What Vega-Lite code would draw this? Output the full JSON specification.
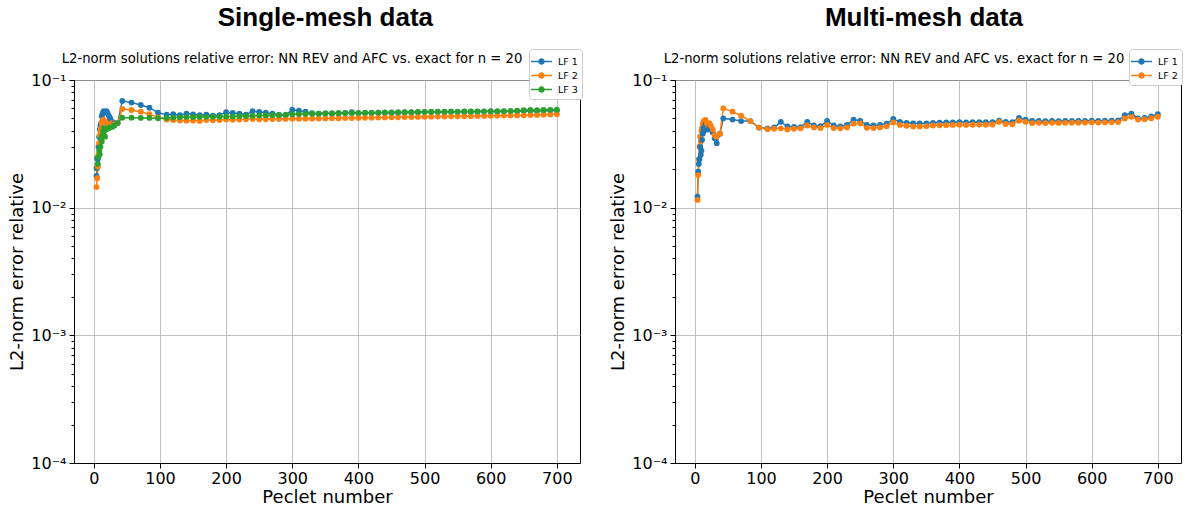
{
  "$schema": "https://vega.github.io/schema/vega-lite/v6.json",
  "background": "white",
  "padding": {"left": 8, "top": 4, "right": 6, "bottom": 2},
  "datasets": {
    "single": [
      {"x":4,"LF 1":0.0177,"LF 2":0.0145,"LF 3":0.0204},
      {"x":5,"LF 1":0.0205,"LF 2":0.0170,"LF 3":0.0245},
      {"x":6,"LF 1":0.0240,"LF 2":0.0210,"LF 3":0.0220},
      {"x":7,"LF 1":0.0300,"LF 2":0.0260,"LF 3":0.0250},
      {"x":8,"LF 1":0.0360,"LF 2":0.0320,"LF 3":0.0280},
      {"x":9,"LF 1":0.0410,"LF 2":0.0370,"LF 3":0.0262},
      {"x":10,"LF 1":0.0440,"LF 2":0.0400,"LF 3":0.0300},
      {"x":11,"LF 1":0.0460,"LF 2":0.0420,"LF 3":0.0350},
      {"x":12,"LF 1":0.0520,"LF 2":0.0460,"LF 3":0.0330},
      {"x":13,"LF 1":0.0540,"LF 2":0.0480,"LF 3":0.0370},
      {"x":14,"LF 1":0.0560,"LF 2":0.0490,"LF 3":0.0400},
      {"x":15,"LF 1":0.0570,"LF 2":0.0480,"LF 3":0.0420},
      {"x":17,"LF 1":0.0560,"LF 2":0.0470,"LF 3":0.0360},
      {"x":19,"LF 1":0.0570,"LF 2":0.0460,"LF 3":0.0410},
      {"x":21,"LF 1":0.0550,"LF 2":0.0470,"LF 3":0.0430},
      {"x":23,"LF 1":0.0520,"LF 2":0.0450,"LF 3":0.0420},
      {"x":25,"LF 1":0.0500,"LF 2":0.0460,"LF 3":0.0430},
      {"x":28,"LF 1":0.0470,"LF 2":0.0460,"LF 3":0.0430},
      {"x":31,"LF 1":0.0460,"LF 2":0.0450,"LF 3":0.0440},
      {"x":36,"LF 1":0.0460,"LF 2":0.0460,"LF 3":0.0460},
      {"x":43,"LF 1":0.0686,"LF 2":0.0593,"LF 3":0.0507},
      {"x":57,"LF 1":0.0665,"LF 2":0.0582,"LF 3":0.0507},
      {"x":71,"LF 1":0.0637,"LF 2":0.0565,"LF 3":0.0505},
      {"x":84,"LF 1":0.0607,"LF 2":0.0540,"LF 3":0.0505},
      {"x":97,"LF 1":0.0555,"LF 2":0.0510,"LF 3":0.0502},
      {"x":110,"LF 1":0.0535,"LF 2":0.0490,"LF 3":0.0505},
      {"x":120,"LF 1":0.0540,"LF 2":0.0485,"LF 3":0.0508},
      {"x":130,"LF 1":0.0530,"LF 2":0.0482,"LF 3":0.0510},
      {"x":140,"LF 1":0.0545,"LF 2":0.0480,"LF 3":0.0512},
      {"x":150,"LF 1":0.0538,"LF 2":0.0482,"LF 3":0.0513},
      {"x":160,"LF 1":0.0530,"LF 2":0.0478,"LF 3":0.0514},
      {"x":170,"LF 1":0.0535,"LF 2":0.0485,"LF 3":0.0515},
      {"x":180,"LF 1":0.0525,"LF 2":0.0483,"LF 3":0.0515},
      {"x":190,"LF 1":0.0530,"LF 2":0.0486,"LF 3":0.0516},
      {"x":200,"LF 1":0.0560,"LF 2":0.0490,"LF 3":0.0518},
      {"x":210,"LF 1":0.0552,"LF 2":0.0488,"LF 3":0.0518},
      {"x":220,"LF 1":0.0545,"LF 2":0.0490,"LF 3":0.0520},
      {"x":230,"LF 1":0.0535,"LF 2":0.0492,"LF 3":0.0522},
      {"x":240,"LF 1":0.0570,"LF 2":0.0495,"LF 3":0.0525},
      {"x":250,"LF 1":0.0562,"LF 2":0.0493,"LF 3":0.0527},
      {"x":260,"LF 1":0.0555,"LF 2":0.0492,"LF 3":0.0528},
      {"x":270,"LF 1":0.0545,"LF 2":0.0494,"LF 3":0.0530},
      {"x":280,"LF 1":0.0532,"LF 2":0.0495,"LF 3":0.0532},
      {"x":290,"LF 1":0.0530,"LF 2":0.0496,"LF 3":0.0535},
      {"x":300,"LF 1":0.0585,"LF 2":0.0498,"LF 3":0.0540},
      {"x":310,"LF 1":0.0575,"LF 2":0.0497,"LF 3":0.0542},
      {"x":320,"LF 1":0.0565,"LF 2":0.0497,"LF 3":0.0543},
      {"x":330,"LF 1":0.0550,"LF 2":0.0498,"LF 3":0.0545},
      {"x":340,"LF 1":0.0545,"LF 2":0.0499,"LF 3":0.0546},
      {"x":350,"LF 1":0.0548,"LF 2":0.0500,"LF 3":0.0548},
      {"x":360,"LF 1":0.0545,"LF 2":0.0501,"LF 3":0.0549},
      {"x":370,"LF 1":0.0550,"LF 2":0.0502,"LF 3":0.0550},
      {"x":380,"LF 1":0.0552,"LF 2":0.0503,"LF 3":0.0551},
      {"x":390,"LF 1":0.0560,"LF 2":0.0504,"LF 3":0.0552},
      {"x":400,"LF 1":0.0550,"LF 2":0.0505,"LF 3":0.0553},
      {"x":410,"LF 1":0.0552,"LF 2":0.0506,"LF 3":0.0554},
      {"x":420,"LF 1":0.0553,"LF 2":0.0507,"LF 3":0.0555},
      {"x":430,"LF 1":0.0555,"LF 2":0.0508,"LF 3":0.0556},
      {"x":440,"LF 1":0.0554,"LF 2":0.0509,"LF 3":0.0557},
      {"x":450,"LF 1":0.0556,"LF 2":0.0510,"LF 3":0.0558},
      {"x":460,"LF 1":0.0555,"LF 2":0.0511,"LF 3":0.0559},
      {"x":470,"LF 1":0.0558,"LF 2":0.0512,"LF 3":0.0560},
      {"x":480,"LF 1":0.0557,"LF 2":0.0513,"LF 3":0.0561},
      {"x":490,"LF 1":0.0560,"LF 2":0.0514,"LF 3":0.0562},
      {"x":500,"LF 1":0.0562,"LF 2":0.0515,"LF 3":0.0563},
      {"x":510,"LF 1":0.0561,"LF 2":0.0516,"LF 3":0.0564},
      {"x":520,"LF 1":0.0563,"LF 2":0.0517,"LF 3":0.0565},
      {"x":530,"LF 1":0.0562,"LF 2":0.0518,"LF 3":0.0565},
      {"x":540,"LF 1":0.0564,"LF 2":0.0519,"LF 3":0.0566},
      {"x":550,"LF 1":0.0563,"LF 2":0.0520,"LF 3":0.0566},
      {"x":560,"LF 1":0.0564,"LF 2":0.0520,"LF 3":0.0567},
      {"x":570,"LF 1":0.0565,"LF 2":0.0521,"LF 3":0.0567},
      {"x":580,"LF 1":0.0564,"LF 2":0.0522,"LF 3":0.0568},
      {"x":590,"LF 1":0.0566,"LF 2":0.0523,"LF 3":0.0568},
      {"x":600,"LF 1":0.0567,"LF 2":0.0524,"LF 3":0.0569},
      {"x":610,"LF 1":0.0566,"LF 2":0.0525,"LF 3":0.0570},
      {"x":620,"LF 1":0.0567,"LF 2":0.0526,"LF 3":0.0571},
      {"x":630,"LF 1":0.0568,"LF 2":0.0527,"LF 3":0.0573},
      {"x":640,"LF 1":0.0570,"LF 2":0.0528,"LF 3":0.0575},
      {"x":650,"LF 1":0.0572,"LF 2":0.0529,"LF 3":0.0580},
      {"x":660,"LF 1":0.0574,"LF 2":0.0531,"LF 3":0.0582},
      {"x":670,"LF 1":0.0573,"LF 2":0.0533,"LF 3":0.0580},
      {"x":680,"LF 1":0.0575,"LF 2":0.0535,"LF 3":0.0582},
      {"x":690,"LF 1":0.0576,"LF 2":0.0537,"LF 3":0.0584},
      {"x":700,"LF 1":0.0578,"LF 2":0.0540,"LF 3":0.0586}
    ],
    "multi": [
      {"x":4,"LF 1":0.0122,"LF 2":0.0115},
      {"x":5,"LF 1":0.0191,"LF 2":0.0180},
      {"x":6,"LF 1":0.0220,"LF 2":0.0240},
      {"x":7,"LF 1":0.0240,"LF 2":0.0300},
      {"x":8,"LF 1":0.0300,"LF 2":0.0360},
      {"x":9,"LF 1":0.0260,"LF 2":0.0330},
      {"x":10,"LF 1":0.0280,"LF 2":0.0400},
      {"x":11,"LF 1":0.0340,"LF 2":0.0420},
      {"x":12,"LF 1":0.0380,"LF 2":0.0450},
      {"x":13,"LF 1":0.0420,"LF 2":0.0470},
      {"x":14,"LF 1":0.0400,"LF 2":0.0480},
      {"x":16,"LF 1":0.0450,"LF 2":0.0487},
      {"x":18,"LF 1":0.0430,"LF 2":0.0460},
      {"x":20,"LF 1":0.0410,"LF 2":0.0440},
      {"x":22,"LF 1":0.0430,"LF 2":0.0460},
      {"x":24,"LF 1":0.0420,"LF 2":0.0440},
      {"x":27,"LF 1":0.0390,"LF 2":0.0410},
      {"x":30,"LF 1":0.0350,"LF 2":0.0370},
      {"x":33,"LF 1":0.0320,"LF 2":0.0360},
      {"x":38,"LF 1":0.0380,"LF 2":0.0380},
      {"x":43,"LF 1":0.0500,"LF 2":0.0600},
      {"x":57,"LF 1":0.0490,"LF 2":0.0565},
      {"x":70,"LF 1":0.0477,"LF 2":0.0525},
      {"x":84,"LF 1":0.0477,"LF 2":0.0477},
      {"x":97,"LF 1":0.0424,"LF 2":0.0424},
      {"x":110,"LF 1":0.0418,"LF 2":0.0412},
      {"x":120,"LF 1":0.0425,"LF 2":0.0415},
      {"x":130,"LF 1":0.0470,"LF 2":0.0418},
      {"x":140,"LF 1":0.0432,"LF 2":0.0410},
      {"x":150,"LF 1":0.0430,"LF 2":0.0415},
      {"x":160,"LF 1":0.0428,"LF 2":0.0418},
      {"x":170,"LF 1":0.0470,"LF 2":0.0440},
      {"x":180,"LF 1":0.0440,"LF 2":0.0425},
      {"x":190,"LF 1":0.0435,"LF 2":0.0420},
      {"x":200,"LF 1":0.0478,"LF 2":0.0445},
      {"x":210,"LF 1":0.0440,"LF 2":0.0420},
      {"x":220,"LF 1":0.0432,"LF 2":0.0418},
      {"x":230,"LF 1":0.0445,"LF 2":0.0425},
      {"x":240,"LF 1":0.0490,"LF 2":0.0455},
      {"x":250,"LF 1":0.0478,"LF 2":0.0458},
      {"x":260,"LF 1":0.0445,"LF 2":0.0422},
      {"x":270,"LF 1":0.0440,"LF 2":0.0420},
      {"x":280,"LF 1":0.0445,"LF 2":0.0425},
      {"x":290,"LF 1":0.0455,"LF 2":0.0435},
      {"x":300,"LF 1":0.0495,"LF 2":0.0465},
      {"x":310,"LF 1":0.0470,"LF 2":0.0445},
      {"x":320,"LF 1":0.0462,"LF 2":0.0438},
      {"x":330,"LF 1":0.0458,"LF 2":0.0432},
      {"x":340,"LF 1":0.0456,"LF 2":0.0432},
      {"x":350,"LF 1":0.0458,"LF 2":0.0435},
      {"x":360,"LF 1":0.0462,"LF 2":0.0440},
      {"x":370,"LF 1":0.0464,"LF 2":0.0442},
      {"x":380,"LF 1":0.0465,"LF 2":0.0443},
      {"x":390,"LF 1":0.0466,"LF 2":0.0445},
      {"x":400,"LF 1":0.0468,"LF 2":0.0446},
      {"x":410,"LF 1":0.0466,"LF 2":0.0445},
      {"x":420,"LF 1":0.0467,"LF 2":0.0446},
      {"x":430,"LF 1":0.0468,"LF 2":0.0447},
      {"x":440,"LF 1":0.0467,"LF 2":0.0446},
      {"x":450,"LF 1":0.0468,"LF 2":0.0448},
      {"x":460,"LF 1":0.0480,"LF 2":0.0470},
      {"x":470,"LF 1":0.0470,"LF 2":0.0452},
      {"x":480,"LF 1":0.0468,"LF 2":0.0450},
      {"x":490,"LF 1":0.0505,"LF 2":0.0480},
      {"x":500,"LF 1":0.0490,"LF 2":0.0470},
      {"x":510,"LF 1":0.0478,"LF 2":0.0460},
      {"x":520,"LF 1":0.0478,"LF 2":0.0462},
      {"x":530,"LF 1":0.0476,"LF 2":0.0460},
      {"x":540,"LF 1":0.0478,"LF 2":0.0462},
      {"x":550,"LF 1":0.0477,"LF 2":0.0461},
      {"x":560,"LF 1":0.0478,"LF 2":0.0462},
      {"x":570,"LF 1":0.0479,"LF 2":0.0463},
      {"x":580,"LF 1":0.0478,"LF 2":0.0463},
      {"x":590,"LF 1":0.0479,"LF 2":0.0464},
      {"x":600,"LF 1":0.0480,"LF 2":0.0465},
      {"x":610,"LF 1":0.0479,"LF 2":0.0464},
      {"x":620,"LF 1":0.0480,"LF 2":0.0465},
      {"x":630,"LF 1":0.0481,"LF 2":0.0466},
      {"x":640,"LF 1":0.0482,"LF 2":0.0468},
      {"x":650,"LF 1":0.0530,"LF 2":0.0500},
      {"x":660,"LF 1":0.0545,"LF 2":0.0515},
      {"x":670,"LF 1":0.0500,"LF 2":0.0490},
      {"x":680,"LF 1":0.0505,"LF 2":0.0492},
      {"x":690,"LF 1":0.0518,"LF 2":0.0502},
      {"x":700,"LF 1":0.0540,"LF 2":0.0516}
    ]
  },
  "hconcat": [
    {
      "title": {"text": "Single-mesh data", "font": "Liberation Sans", "fontSize": 26, "fontWeight": "bold", "anchor": "middle", "frame": "bounds", "dx": 30, "offset": 18},
      "vconcat": [
        {
          "width": 506,
          "height": 383,
          "title": {"text": "L2-norm solutions relative error: NN REV and AFC vs. exact for n = 20", "dx": -35},
          "data": {"name": "single"},
          "transform": [{"fold": ["LF 1", "LF 2", "LF 3"], "as": ["series", "err"]}],
          "encoding": {
            "x": {"field": "x", "type": "quantitative", "scale": {"domain": [-30, 735], "nice": false, "zero": false},
                  "axis": {"values": [0, 100, 200, 300, 400, 500, 600, 700], "format": "d", "title": "Peclet number", "titlePadding": 2, "labelPadding": 2}},
            "y": {"field": "err", "type": "quantitative", "scale": {"type": "log", "domain": [0.0001, 0.1], "nice": false},
                  "axis": {"values": [0.0001, 0.0002, 0.0003, 0.0004, 0.0005, 0.0006, 0.0007, 0.0008, 0.0009, 0.001, 0.002, 0.003, 0.004, 0.005, 0.006, 0.007, 0.008, 0.009, 0.01, 0.02, 0.03, 0.04, 0.05, 0.06, 0.07, 0.08, 0.09, 0.1],
                           "title": "L2-norm error relative",
                           "labelExpr": "datum.value == 0.1 ? '10⁻¹' : datum.value == 0.01 ? '10⁻²' : datum.value == 0.001 ? '10⁻³' : datum.value == 0.0001 ? '10⁻⁴' : ''",
                           "gridOpacity": {"condition": {"test": "indexof([0.0001, 0.001, 0.01, 0.1], datum.value) >= 0", "value": 1}, "value": 0},
                           "tickSize": {"condition": {"test": "indexof([0.0001, 0.001, 0.01, 0.1], datum.value) >= 0", "value": 5}, "value": 3},
                           "labelOverlap": false}},
            "color": {"field": "series", "type": "nominal",
                      "scale": {"domain": ["LF 1", "LF 2", "LF 3"], "range": ["#1f77b4", "#ff7f0e", "#2ca02c"]},
                      "legend": {"orient": "none", "legendX": 455, "legendY": -31}}
          },
          "layer": [
            {"mark": {"type": "line", "strokeWidth": 1.5}},
            {"mark": {"type": "point", "filled": true, "size": 34, "opacity": 1}}
          ]
        }
      ]
    },
    {
      "title": {"text": "Multi-mesh data", "font": "Liberation Sans", "fontSize": 26, "fontWeight": "bold", "anchor": "middle", "frame": "bounds", "dx": 28, "offset": 18},
      "vconcat": [
        {
          "width": 506,
          "height": 383,
          "title": {"text": "L2-norm solutions relative error: NN REV and AFC vs. exact for n = 20", "dx": -34},
          "data": {"name": "multi"},
          "transform": [{"fold": ["LF 1", "LF 2"], "as": ["series", "err"]}],
          "encoding": {
            "x": {"field": "x", "type": "quantitative", "scale": {"domain": [-30, 735], "nice": false, "zero": false},
                  "axis": {"values": [0, 100, 200, 300, 400, 500, 600, 700], "format": "d", "title": "Peclet number", "titlePadding": 2, "labelPadding": 2}},
            "y": {"field": "err", "type": "quantitative", "scale": {"type": "log", "domain": [0.0001, 0.1], "nice": false},
                  "axis": {"values": [0.0001, 0.0002, 0.0003, 0.0004, 0.0005, 0.0006, 0.0007, 0.0008, 0.0009, 0.001, 0.002, 0.003, 0.004, 0.005, 0.006, 0.007, 0.008, 0.009, 0.01, 0.02, 0.03, 0.04, 0.05, 0.06, 0.07, 0.08, 0.09, 0.1],
                           "title": "L2-norm error relative",
                           "labelExpr": "datum.value == 0.1 ? '10⁻¹' : datum.value == 0.01 ? '10⁻²' : datum.value == 0.001 ? '10⁻³' : datum.value == 0.0001 ? '10⁻⁴' : ''",
                           "gridOpacity": {"condition": {"test": "indexof([0.0001, 0.001, 0.01, 0.1], datum.value) >= 0", "value": 1}, "value": 0},
                           "tickSize": {"condition": {"test": "indexof([0.0001, 0.001, 0.01, 0.1], datum.value) >= 0", "value": 5}, "value": 3},
                           "labelOverlap": false}},
            "color": {"field": "series", "type": "nominal",
                      "scale": {"domain": ["LF 1", "LF 2"], "range": ["#1f77b4", "#ff7f0e"]},
                      "legend": {"orient": "none", "legendX": 454, "legendY": -31}}
          },
          "layer": [
            {"mark": {"type": "line", "strokeWidth": 1.5}},
            {"mark": {"type": "point", "filled": true, "size": 34, "opacity": 1}}
          ]
        }
      ]
    }
  ],
  "spacing": 26,
  "resolve": {"scale": {"color": "independent"}, "legend": {"color": "independent"}},
  "config": {
    "font": "DejaVu Sans",
    "view": {"stroke": "black", "strokeWidth": 1},
    "axis": {
      "labelFont": "DejaVu Sans", "labelFontSize": 16, "labelColor": "black",
      "titleFont": "DejaVu Sans", "titleFontSize": 18, "titleFontWeight": "normal", "titleColor": "black",
      "tickColor": "black", "domainColor": "black", "gridColor": "#b0b0b0", "gridWidth": 0.8,
      "tickSize": 5, "labelPadding": 3, "grid": true, "labelFlush": false, "titlePadding": 4
    },
    "legend": {
      "title": null, "fillColor": "white", "strokeColor": "#cccccc", "cornerRadius": 3, "padding": 4,
      "labelFont": "DejaVu Sans", "labelFontSize": 9.5, "labelColor": "black",
      "symbolType": "M-1.4,0H1.4M-0.33,0A0.33,0.33,0,1,0,0.33,0A0.33,0.33,0,1,0,-0.33,0Z",
      "symbolSize": 225, "symbolStrokeWidth": 1.5, "rowPadding": 0, "labelOffset": 8
    },
    "title": {"font": "DejaVu Sans", "fontSize": 13.2, "fontWeight": "normal", "color": "black", "anchor": "middle", "frame": "group", "offset": 6},
    "concat": {"spacing": 26}
  }
}
